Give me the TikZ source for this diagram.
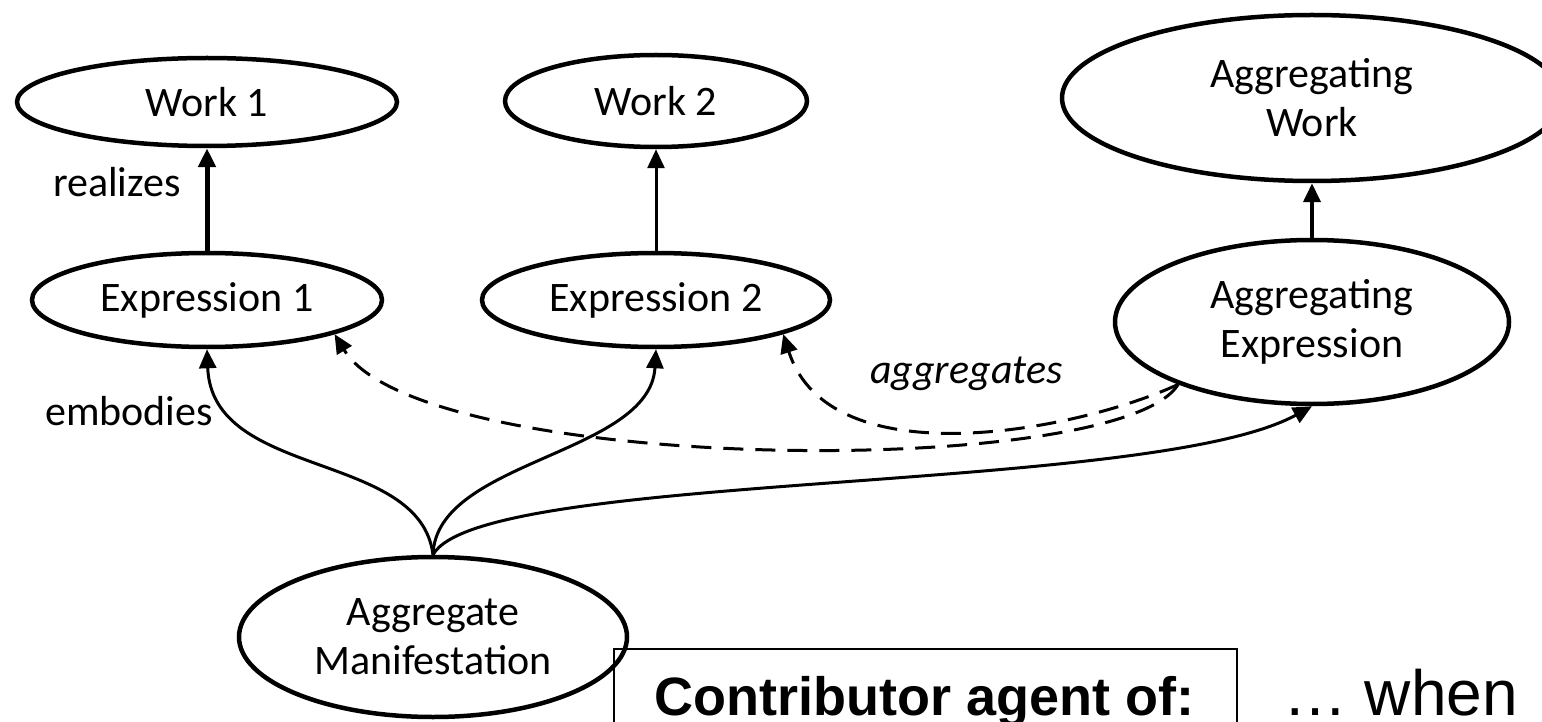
\documentclass[tikz,border=0pt]{standalone}
\usepackage{fontspec}
\setmainfont{Carlito}
\newfontfamily\arialfont{Liberation Sans}
\usetikzlibrary{shapes.geometric,arrows.meta}
\begin{document}
\begin{tikzpicture}[x=1pt,y=-1pt,
  ent/.style={ellipse, draw, line width=4.5pt, inner sep=0pt, align=center, font=\fontsize{42}{49}\selectfont},
  lbl/.style={anchor=base west, inner sep=0pt, font=\fontsize{42}{49}\selectfont},
  tipped/.style={-{Triangle[length=19pt,width=17pt]}},
  link/.style={tipped, line width=3pt},
  dlink/.style={tipped, line width=3pt, dash pattern=on 20pt off 12pt},
]
\fill[white] (0,0) rectangle (1542,722);
\useasboundingbox (0,0) rectangle (1542,722);
\clip (0,0) rectangle (1542,722);

% entities
\node[ent, minimum width=380pt, minimum height=88pt] (w1) at (207,102) {Work 1};
\node[ent, minimum width=302pt, minimum height=92pt] (w2) at (656,101) {Work 2};
\node[ent, minimum width=500pt, minimum height=166pt] (aw) at (1312,98) {Aggregating\\Work};
\node[ent, minimum width=350pt, minimum height=94pt] (e1) at (207,300) {Expression 1};
\node[ent, minimum width=348pt, minimum height=94pt] (e2) at (656,300) {Expression 2};
\node[ent, minimum width=394pt, minimum height=164pt] (ae) at (1312,322) {Aggregating\\Expression};
\node[ent, minimum width=388pt, minimum height=160pt] (am) at (433,637) {Aggregate\\Manifestation};

% labels
\node[lbl] (lrealizes) at (53,197) {realizes};
\node[lbl] (lembodies) at (45,425) {embodies};
\node[lbl, font=\fontsize{42}{49}\selectfont\itshape] (laggregates) at (870,383) {aggregates};

% realizes arrows
\draw[tipped, line width=5pt] (e1.north) -- (w1.south);
\draw[tipped, line width=3pt] (e2.north) -- (w2.south);
\draw[tipped, line width=4pt] (ae.north) -- (aw.south);

% embodies arrows
\draw[link] (am.north) .. controls (420,450) and (212,480) .. (e1.south);
\draw[link] (am.north) .. controls (436,460) and (650,455) .. (e2.south);
\draw[link] (am.north) .. controls (480,470) and (1150,495) .. (ae.south);

% aggregates arrows
\draw[dlink] (ae.-155) .. controls (1120,480) and (420,475) .. (e1.-15);
\draw[dlink] (ae.-155) .. controls (1080,430) and (830,480) .. (e2.-15);

% bottom box and text
\node[draw, line width=1.5pt, minimum width=623pt, minimum height=120pt, anchor=north west, inner sep=0pt] (box) at (613,648) {};
\node[anchor=base west, inner sep=0pt, font=\arialfont\bfseries\fontsize{54}{60}\selectfont] (contrib) at (654,715) {Contributor agent of:};
\node[anchor=base west, inner sep=0pt, font=\arialfont\fontsize{64}{70}\selectfont] (when) at (1283,715) {… when};
\end{tikzpicture}
\end{document}
